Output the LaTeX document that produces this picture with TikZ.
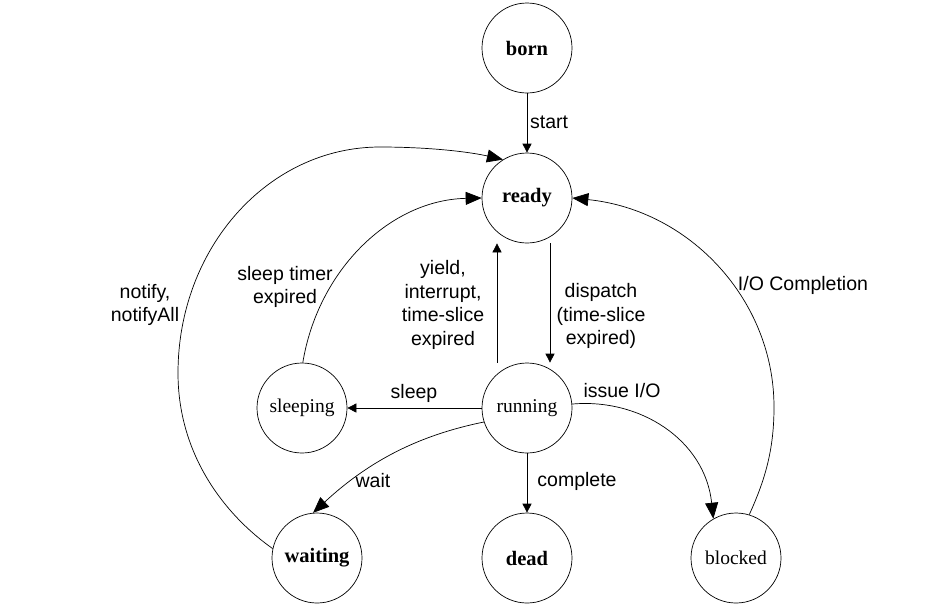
\documentclass[tikz,border=0pt]{standalone}
\usepackage{fontspec}
\setmainfont{Liberation Serif}
\newfontfamily\lblfont{Liberation Sans}
\usetikzlibrary{arrows.meta}
\begin{document}
\begin{tikzpicture}[x=1pt,y=-1pt,
  state/.style={draw, circle, minimum size=90pt, inner sep=0pt, line width=0.7pt},
  bstate/.style={state, font=\fontsize{20.5}{24}\selectfont\bfseries},
  nstate/.style={state, font=\fontsize{19.5}{23}\selectfont},
  lbl/.style={font=\lblfont\fontsize{19.5}{23.5}\selectfont, align=center, inner sep=0pt},
  conn/.style={line width=0.7pt},
  smallarrow/.style={conn, -{Triangle[length=9pt,width=9pt]}},
  bigarrow/.style={conn, -{Triangle[length=16pt,width=13pt]}},
]
\fill[white] (0,0) rectangle (936,606);
\useasboundingbox (0,0) rectangle (936,606);

% states
\node[bstate] (born) at (527,48) {born};
\node[bstate] (ready) at (527,198) {ready};
\node[nstate] (running) at (527,408) {running};
\node[nstate] (sleeping) at (302,408) {sleeping};
\node[bstate] (waiting) at (317,558) {waiting};
\node[bstate] (dead) at (527,558) {dead};
\node[nstate] (blocked) at (736,558) {blocked};

% straight transitions
\draw[smallarrow] (born) -- (ready);
\draw[smallarrow] (ready.south -| 550,0) -- (running.north -| 550,0);
\draw[smallarrow] (running.north -| 497,0) -- (ready.south -| 497,0);
\draw[smallarrow] (running) -- (sleeping);
\draw[smallarrow] (running) -- (dead);

% curved transitions
\draw[bigarrow] (waiting.168) .. controls (225,515) and (178,455) .. (178,373)
  .. controls (178,248) and (268,147) .. (380,147)
  .. controls (430,147) and (470,152) .. (ready.122);
\draw[bigarrow] (sleeping.89) .. controls (318,270) and (390,200) .. (ready.180);
\draw[bigarrow] (blocked.73) .. controls (765,480) and (774,450) .. (774,407)
  .. controls (774,300) and (690,210) .. (ready.0);
\draw[bigarrow] (running.5) .. controls (640,398) and (705,440) .. (blocked.120);
\draw[bigarrow] (running.198) .. controls (420,435) and (370,460) .. (waiting.95);

% labels
\node[lbl, anchor=west] (lstart) at (530,122) {start};
\node[lbl] (lyield) at (443,305) {yield,\\interrupt,\\time-slice\\expired};
\node[lbl] (ldispatch) at (601,316) {dispatch\\(time-slice\\expired)};
\node[lbl] (lsleeptimer) at (285,287) {sleep timer\\expired};
\node[lbl] (lnotify) at (145,305) {notify,\\notifyAll};
\node[lbl] (lio) at (803,285) {I/O Completion};
\node[lbl] (lsleep) at (414,393) {sleep};
\node[lbl] (lissue) at (622,391) {issue I/O};
\node[lbl] (lwait) at (373,481) {wait};
\node[lbl] (lcomplete) at (577,481) {complete};
\end{tikzpicture}
\end{document}
